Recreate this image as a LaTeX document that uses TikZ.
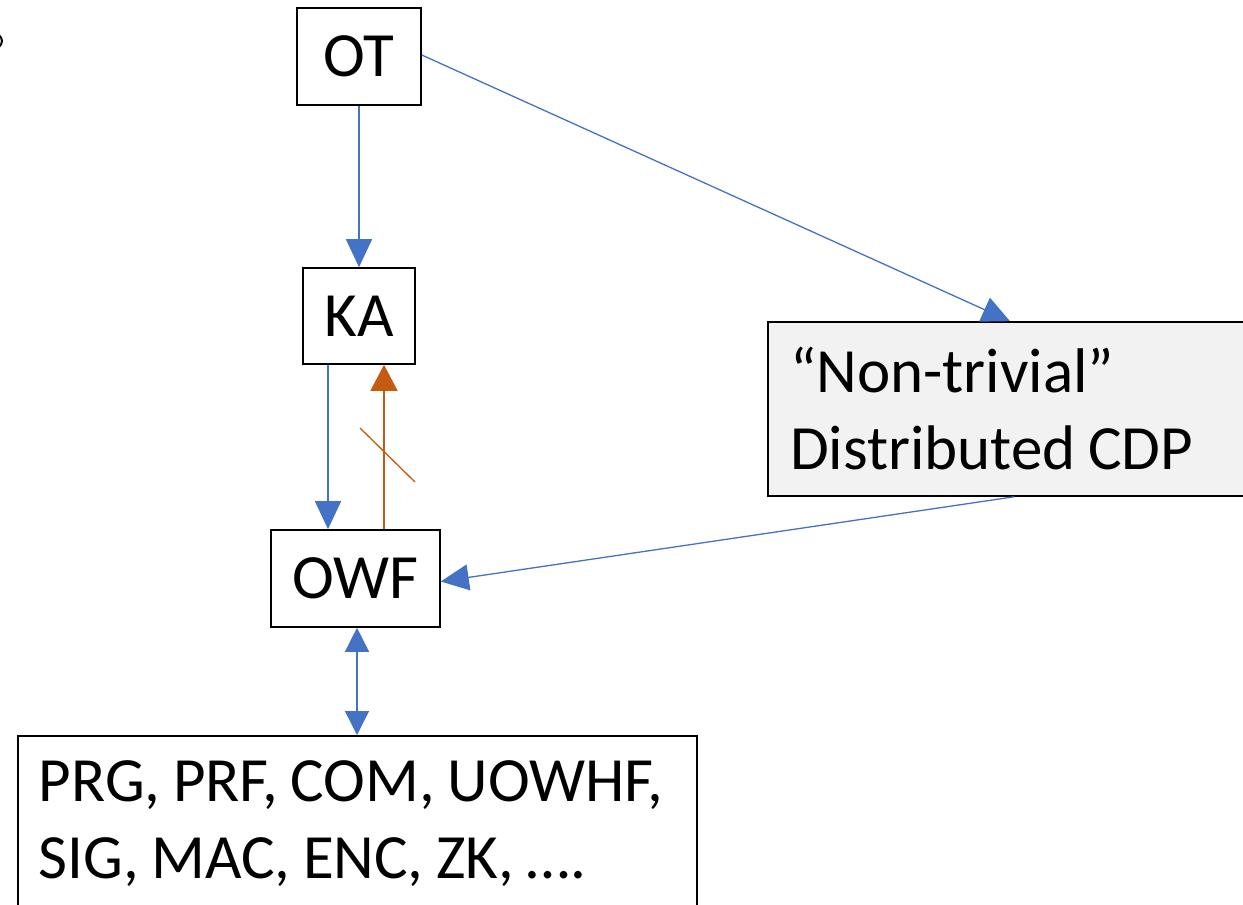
\documentclass[tikz,border=0pt]{standalone}
\usepackage{fontspec}
\setmainfont{Carlito}
\usetikzlibrary{arrows.meta,calc}
\definecolor{ablue}{HTML}{4472C4}
\definecolor{aorange}{HTML}{C55A11}
\definecolor{boxgray}{HTML}{F2F2F2}
\newcommand{\boxfont}{\fontsize{63}{77}\selectfont}
\newcommand{\wsp}{\hspace{0.2em}}
\begin{document}
\begin{tikzpicture}[x=1pt,y=-1pt,
  box/.style={draw=black,line width=1.6pt,inner sep=0pt,font=\boxfont},
  bluearr/.style={draw=ablue,line width=1.3pt,-{Triangle[width=26pt,length=28pt]}},
  orarr/.style={draw=aorange,line width=1.6pt,-{Triangle[width=27pt,length=26pt]}}]
\useasboundingbox (0,0) rectangle (1243,905);
\clip (0,0) rectangle (1243,905);
\fill[white] (0,0) rectangle (1243,905);
% small fragment at left edge
\draw[line width=2pt] (-1,35) .. controls (3,39) and (3,43) .. (-1,47);
% nodes
\node[box,minimum width=124pt,minimum height=97pt] (OT) at (359,56.5) {OT};
\node[box,minimum width=112pt,minimum height=96pt] (KA) at (359,316) {KA};
\node[box,minimum width=169pt,minimum height=97pt] (OWF) at (355.5,578.5) {OWF};
\node[box,fill=boxgray,text width=448pt,inner xsep=22pt,minimum height=174pt,align=left] (CDP) at (1014,409) {\mbox{``Non-trivial''}\\\mbox{Distributed\wsp CDP}};
\node[box,anchor=north west,text width=637pt,inner xsep=21pt,minimum height=175pt,align=left] (PRIM) at (17,735) {\mbox{PRG,\wsp PRF,\wsp COM,\wsp UOWHF,}\\\mbox{SIG,\wsp MAC,\wsp ENC,\wsp ZK,\wsp \dots.}};
% connectors
\draw[bluearr] (OT.south) -- (KA.north);
\draw[bluearr] ([yshift=1.5pt]OT.east) -- ([xshift=-4pt]CDP.north);
\draw[bluearr] ([xshift=-31pt]KA.south) -- ([xshift=-31pt]KA.south |- OWF.north);
\draw[orarr] ([xshift=25pt]KA.south |- OWF.north) -- ([xshift=25pt]KA.south);
\draw[aorange,line width=1.3pt] (360,428) -- (415,482);
\draw[bluearr] (CDP.south) -- ([yshift=-3pt]OWF.east);
\draw[draw=ablue,line width=1.3pt,{Triangle[width=24pt,length=24pt]}-{Triangle[width=24pt,length=24pt]}] ([xshift=1.5pt]OWF.south) -- ([xshift=1.5pt]OWF.south |- PRIM.north);
\end{tikzpicture}
\end{document}
